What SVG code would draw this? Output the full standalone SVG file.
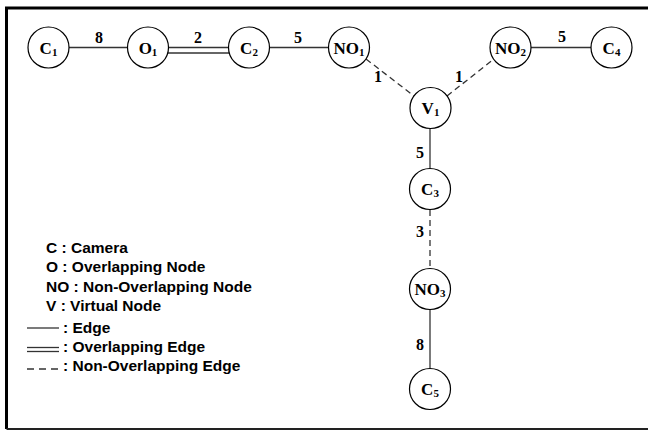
<svg xmlns="http://www.w3.org/2000/svg" width="648" height="430" viewBox="0 0 648 430">
  <style>
    .frame { fill: none; stroke: #000; }
    .node circle { fill: #fff; stroke: #000; stroke-width: 1.2; }
    .node text { font-family: "Liberation Serif", "Times New Roman", serif; font-weight: bold; font-size: 17px; fill: #000; text-anchor: middle; }
    .node tspan.sub { font-size: 11px; }
    .edge { stroke: #333; stroke-width: 1.3; fill: none; }
    .dash { stroke-dasharray: 6 4; }
    .w { font-family: "Liberation Serif", "Times New Roman", serif; font-weight: bold; font-size: 16px; fill: #000; text-anchor: middle; }
    .legend text { font-family: "Liberation Sans", Arial, sans-serif; font-weight: bold; font-size: 15.5px; fill: #000; }
  </style>

  <!-- outer frame (right side runs off the canvas) -->
  <path class="frame" d="M6.5,429 V8 H660" stroke-width="3"/>
  <line x1="6.5" y1="429" x2="648" y2="429" stroke="#222" stroke-width="2"/>

  <!-- connectors -->
  <g id="connectors">
    <line class="edge" x1="69" y1="47.5" x2="128" y2="47.5"/>
    <line class="edge" x1="168" y1="47.5" x2="229" y2="47.5"/>
    <line class="edge" x1="168" y1="53" x2="229" y2="53"/>
    <line class="edge" x1="269" y1="47.5" x2="329" y2="47.5"/>
    <line class="edge dash" x1="366" y1="59" x2="414" y2="96"/>
    <line class="edge dash" x1="447" y1="96" x2="494" y2="59"/>
    <line class="edge" x1="531" y1="47.5" x2="591" y2="47.5"/>
    <line class="edge" x1="430" y1="129" x2="430" y2="168"/>
    <line class="edge dash" x1="430" y1="210" x2="430" y2="268"/>
    <line class="edge" x1="430" y1="310" x2="430" y2="368"/>

    <text class="w" x="99" y="43">8</text>
    <text class="w" x="198" y="43">2</text>
    <text class="w" x="298" y="43">5</text>
    <text class="w" x="378" y="82">1</text>
    <text class="w" x="459" y="82">1</text>
    <text class="w" x="562" y="42">5</text>
    <text class="w" x="420" y="158">5</text>
    <text class="w" x="420" y="237">3</text>
    <text class="w" x="420" y="350">8</text>
  </g>

  <!-- nodes -->
  <g id="C1" class="node"><circle cx="48.5" cy="47.5" r="20.5"/><text x="48.5" y="53.5">C<tspan class="sub" dy="2">1</tspan></text></g>
  <g id="O1" class="node"><circle cx="148" cy="47.5" r="20.5"/><text x="148" y="53.5">O<tspan class="sub" dy="2">1</tspan></text></g>
  <g id="C2" class="node"><circle cx="249" cy="47.5" r="20.5"/><text x="249" y="53.5">C<tspan class="sub" dy="2">2</tspan></text></g>
  <g id="NO1" class="node"><circle cx="349" cy="47.5" r="20.5"/><text x="349" y="53.5">NO<tspan class="sub" dy="2">1</tspan></text></g>
  <g id="NO2" class="node"><circle cx="510.5" cy="47.5" r="20.5"/><text x="510.5" y="53.5">NO<tspan class="sub" dy="2">2</tspan></text></g>
  <g id="C4" class="node"><circle cx="611.5" cy="47.5" r="20.5"/><text x="611.5" y="53.5">C<tspan class="sub" dy="2">4</tspan></text></g>
  <g id="V1" class="node"><circle cx="430.5" cy="108" r="20.5"/><text x="430.5" y="114">V<tspan class="sub" dy="2">1</tspan></text></g>
  <g id="C3" class="node"><circle cx="430" cy="189" r="20.5"/><text x="430" y="195">C<tspan class="sub" dy="2">3</tspan></text></g>
  <g id="NO3" class="node"><circle cx="430" cy="289" r="20.5"/><text x="430" y="295">NO<tspan class="sub" dy="2">3</tspan></text></g>
  <g id="C5" class="node"><circle cx="430" cy="389" r="20.5"/><text x="430" y="395">C<tspan class="sub" dy="2">5</tspan></text></g>

  <!-- legend -->
  <g id="legend" class="legend">
    <text x="46" y="253">C : Camera</text>
    <text x="46" y="272">O : Overlapping Node</text>
    <text x="46" y="292">NO : Non-Overlapping Node</text>
    <text x="46" y="311">V : Virtual Node</text>
    <line class="edge" x1="27" y1="328" x2="59" y2="328"/>
    <text x="63" y="333">: Edge</text>
    <line class="edge" x1="27" y1="347.5" x2="59" y2="347.5"/>
    <line class="edge" x1="27" y1="351.5" x2="59" y2="351.5"/>
    <text x="63" y="352">: Overlapping Edge</text>
    <line class="edge" x1="27" y1="369" x2="59" y2="369" stroke-dasharray="7 5"/>
    <text x="63" y="371">: Non-Overlapping Edge</text>
  </g>
</svg>
